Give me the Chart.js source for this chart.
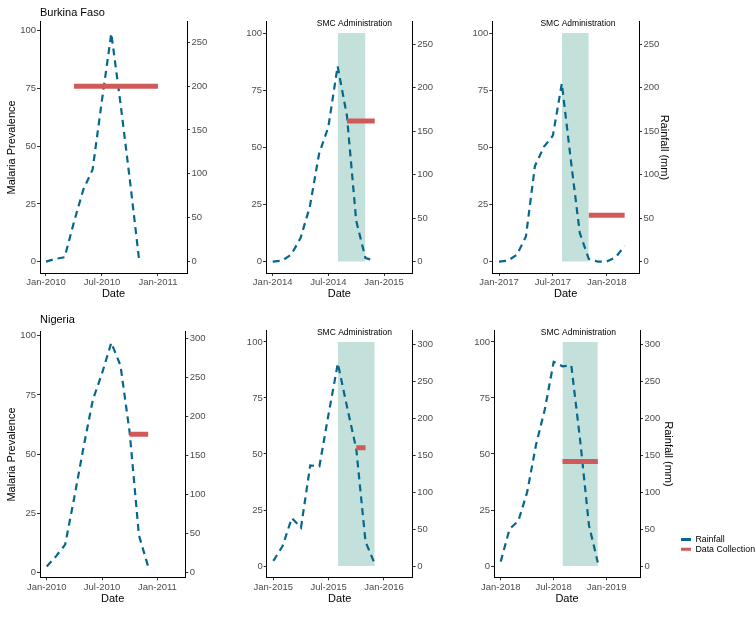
<!DOCTYPE html>
<html>
<head>
<meta charset="utf-8">
<script src="https://cdn.jsdelivr.net/npm/chart.js@4.4.1/dist/chart.umd.min.js"></script>
<style>
  html, body { margin: 0; padding: 0; background: #fff; overflow: hidden; }
  #wrap { position: relative; width: 756px; height: 621px; }
  #wrap canvas { position: absolute; }
</style>
</head>
<body>
<div id="wrap"></div>
<script>
// --- DATA ---
// monthly rainfall (mm), index 0 = January of the panel's first year
const rainBF2010 = [0, 3, 5, 45, 82, 105, 184, 260, 179, 92, 0];
const rainBF2014 = [0, 1, 8, 27, 63, 124, 155, 225, 168, 47, 4, 1];
const rainBF2017 = [0, 1, 8, 29, 110, 132, 145, 205, 117, 33, 3, 0, 0, 5, 18];
const rainNG2010 = [8, 21, 36, 97, 161, 221, 255, 294, 265, 179, 48, 8];
const rainNG2015 = [7, 27, 65, 52, 136, 135, 206, 274, 215, 158, 33, 3];
const rainNG2018 = [6, 50, 61, 100, 164, 212, 276, 270, 271, 170, 55, 5];

const panelRain = [rainBF2010, rainBF2014, rainBF2017, rainNG2010, rainNG2015, rainNG2018];
const panelTitles = ['Burkina Faso', '', '', 'Nigeria', '', ''];

// data collection period (month index) and malaria prevalence
const collectStart = [3, 8, 10, 9, 9, 7];
const collectEnd = [12, 11, 14, 11, 10, 11];
const collectPrev = [76, 61.5, 20.3, 58.4, 52.8, 46.6];

// SMC administration window (month index), null = none
const smcStart = [null, 7, 7, null, 7, 7];
const smcEnd = [null, 10, 10, null, 11, 11];
const smcLabel = 'SMC Administration';
const smcLabelX = 8.8;
const smcLabelY = 104.2;

// ticks
const xTickValues = [0, 6, 12];
const xTickLabels = [
    ['Jan-2010', 'Jul-2010', 'Jan-2011'],
    ['Jan-2014', 'Jul-2014', 'Jan-2015'],
    ['Jan-2017', 'Jul-2017', 'Jan-2018'],
    ['Jan-2010', 'Jul-2010', 'Jan-2011'],
    ['Jan-2015', 'Jul-2015', 'Jan-2016'],
    ['Jan-2018', 'Jul-2018', 'Jan-2019']
];
const prevTicks = [0, 25, 50, 75, 100];
const rainTicksBF = [0, 50, 100, 150, 200, 250];
const rainTicksNG = [0, 50, 100, 150, 200, 250, 300];
const panelRainTicks = [rainTicksBF, rainTicksBF, rainTicksBF, rainTicksNG, rainTicksNG, rainTicksNG];

// mm of rainfall per unit of prevalence (secondary axis)
const mmPerUnit = [2.63, 2.63, 2.63, 3.03, 3.03, 3.03];

// axis limits
const xMin = [-0.64, -0.72, -0.75, -0.73, -0.72, -0.76];
const xMax = [15.11, 15.09, 15.6, 15.03, 15.12, 15.78];
const yMin = [-4.95, -5, -5, -1.9, -5, -5];
const yMax = [103.95, 105, 105, 101.7, 105, 105];

// --- LAYOUT (page pixels) ---
const LAYOUT = [
    { canvas: [0, 0, 226, 301], plot: [40, 21.7, 187, 273], titleY: 13.3 },
    { canvas: [226, 0, 226, 301], plot: [266, 21.7, 412.7, 273] },
    { canvas: [452, 0, 228, 301], plot: [492.3, 21.7, 639, 273], rainTitleX: 664 },
    { canvas: [0, 300, 226, 306], plot: [40, 331.7, 185.3, 577.3], titleY: 320 },
    { canvas: [226, 300, 226, 306], plot: [266.7, 330.7, 412.7, 577.3] },
    { canvas: [452, 300, 232, 306], plot: [494, 330.7, 640, 577.3], rainTitleX: 668.3 }
];

const TEAL = '#05678C';
const RED = '#D05A5A';
const SMC_FILL = 'rgba(105, 179, 162, 0.4)';
const FONT = '"Liberation Sans", Arial, Helvetica, sans-serif';

Chart.defaults.font.family = FONT;
Chart.defaults.animation = false;

// --- PLUGINS ---
const smcLabelPlugin = {
    id: 'smcLabel',
    afterDatasetsDraw(chart, args, opts) {
        if (!opts || !opts.text) return;
        const { ctx, scales } = chart;
        ctx.save();
        ctx.font = '8.5px ' + FONT;
        ctx.fillStyle = '#000';
        ctx.textAlign = 'center';
        ctx.textBaseline = 'middle';
        ctx.fillText(opts.text, scales.x.getPixelForValue(opts.x), scales.y.getPixelForValue(opts.y));
        ctx.restore();
    }
};

// --- HELPERS ---
function makeCanvas(box) {
    const c = document.createElement('canvas');
    c.width = box[2];
    c.height = box[3];
    c.style.left = box[0] + 'px';
    c.style.top = box[1] + 'px';
    c.style.width = box[2] + 'px';
    c.style.height = box[3] + 'px';
    document.getElementById('wrap').appendChild(c);
    return c;
}

function axisGrid() {
    return { display: true, drawOnChartArea: false, drawTicks: true, tickLength: 3, color: '#333' };
}

function fixedTicks(values) {
    return s => { s.ticks = values.map(v => ({ value: v })); };
}

function buildPanel(i) {
    const lay = LAYOUT[i];
    const [cx, cy, cw, ch] = lay.canvas;
    const [L, T, R, B] = lay.plot;
    const col = i % 3;
    const hasTitle = !!panelTitles[i];

    const datasets = [
        {
            label: 'Data Collection',
            data: [{ x: collectStart[i], y: collectPrev[i] }, { x: collectEnd[i], y: collectPrev[i] }],
            yAxisID: 'y',
            borderColor: RED,
            borderWidth: 5,
            borderCapStyle: 'butt',
            pointRadius: 0
        },
        {
            label: 'Rainfall',
            data: panelRain[i].map((v, m) => ({ x: m, y: v })),
            yAxisID: 'y1',
            borderColor: TEAL,
            borderWidth: 2.2,
            borderDash: [7, 5],
            borderCapStyle: 'butt',
            tension: 0,
            pointRadius: 0
        }
    ];
    if (smcStart[i] !== null) {
        datasets.push({
            label: 'SMC',
            data: [{ x: smcStart[i], y: 100 }, { x: smcEnd[i], y: 100 }],
            yAxisID: 'y',
            borderWidth: 0,
            borderColor: 'rgba(0,0,0,0)',
            backgroundColor: SMC_FILL,
            fill: { value: 0 },
            pointRadius: 0
        });
    }

    const tickFont = { size: 9.5 };
    const tickColor = '#4D4D4D';
    const titleFont = { size: 11 };

    const layoutPad = { left: 0, right: 0, bottom: 0, top: hasTitle ? 0 : T - cy };
    const titleTop = hasTitle ? lay.titleY - cy - 6.6 : 0;

    new Chart(makeCanvas(lay.canvas), {
        type: 'line',
        data: { datasets },
        options: {
            responsive: false,
            animation: false,
            layout: { padding: layoutPad },
            plugins: {
                legend: { display: false },
                tooltip: { enabled: false },
                title: {
                    display: hasTitle,
                    text: panelTitles[i],
                    align: 'start',
                    fullSize: false,
                    color: '#000',
                    font: { size: 11, weight: 'normal' },
                    padding: { top: titleTop, bottom: (T - cy) - titleTop - 13.2 }
                },
                smcLabel: smcStart[i] !== null ? { text: smcLabel, x: smcLabelX, y: smcLabelY } : {}
            },
            scales: {
                x: {
                    type: 'linear',
                    position: 'bottom',
                    min: xMin[i],
                    max: xMax[i],
                    afterFit: s => { s.height = cy + ch - B; },
                    afterBuildTicks: fixedTicks(xTickValues),
                    ticks: {
                        autoSkip: false,
                        maxRotation: 0,
                        padding: 1,
                        font: tickFont,
                        color: tickColor,
                        callback: v => xTickLabels[i][xTickValues.indexOf(v)]
                    },
                    grid: axisGrid(),
                    border: { display: true, color: '#000', width: 1 },
                    title: { display: true, text: 'Date', color: '#000', font: titleFont, padding: { top: 0, bottom: 0 } }
                },
                y: {
                    position: 'left',
                    min: yMin[i],
                    max: yMax[i],
                    afterFit: s => { s.width = L - cx; },
                    afterBuildTicks: fixedTicks(prevTicks),
                    ticks: { padding: 1, font: tickFont, color: tickColor },
                    grid: axisGrid(),
                    border: { display: true, color: '#000', width: 1 },
                    title: {
                        display: col === 0,
                        text: 'Malaria Prevalence',
                        color: '#000',
                        font: titleFont,
                        padding: { top: 11.7 - 6.6, bottom: 0 }
                    }
                },
                y1: {
                    position: 'right',
                    min: yMin[i] * mmPerUnit[i],
                    max: yMax[i] * mmPerUnit[i],
                    afterFit: s => { s.width = cx + cw - R; },
                    afterBuildTicks: fixedTicks(panelRainTicks[i]),
                    ticks: { padding: 1.5, font: tickFont, color: tickColor },
                    grid: axisGrid(),
                    border: { display: true, color: '#000', width: 1 },
                    title: {
                        display: col === 2,
                        text: 'Rainfall (mm)',
                        color: '#000',
                        font: titleFont,
                        padding: { top: lay.rainTitleX ? (cx + cw) - 6.6 - lay.rainTitleX : 0, bottom: 0 }
                    }
                }
            }
        },
        plugins: [smcLabelPlugin]
    });
}

function buildLegend() {
    new Chart(makeCanvas([680, 534, 76, 70]), {
        type: 'line',
        data: {
            datasets: [
                { label: 'Rainfall', data: [], backgroundColor: TEAL, borderColor: TEAL, borderWidth: 0 },
                { label: 'Data Collection', data: [], backgroundColor: RED, borderColor: RED, borderWidth: 0 }
            ]
        },
        options: {
            responsive: false,
            animation: false,
            layout: { padding: 0 },
            scales: { x: { display: false }, y: { display: false } },
            plugins: {
                tooltip: { enabled: false },
                legend: {
                    display: true,
                    position: 'top',
                    align: 'start',
                    labels: { boxWidth: 10, boxHeight: 3, padding: 1, color: '#000', font: { size: 8.8 } }
                }
            }
        }
    });
}

// --- INIT ---
for (let i = 0; i < 6; i++) buildPanel(i);
buildLegend();
</script>
</body>
</html>
